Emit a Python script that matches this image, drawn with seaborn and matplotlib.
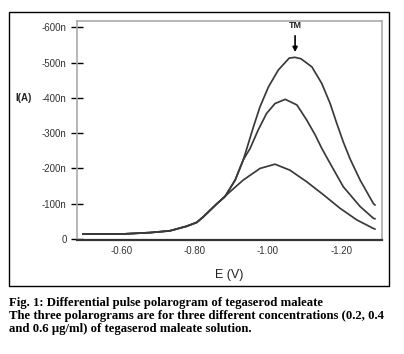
import matplotlib
matplotlib.use("Agg")
import matplotlib.pyplot as plt
import seaborn as sns
import pandas as pd
from matplotlib.patches import Rectangle
from matplotlib.ticker import FixedLocator, FixedFormatter

sns.set_theme(style="white")
plt.rcParams['font.family'] = ['Liberation Sans', 'DejaVu Sans']
plt.rcParams['axes.unicode_minus'] = False

# --- data (potential in V, current magnitude in nA) ---
E_low = [-0.493, -0.600, -0.677, -0.731, -0.777, -0.805, -0.823, -0.859,
         -0.896, -0.932, -0.978, -1.019, -1.060, -1.106, -1.152, -1.197,
         -1.243, -1.288, -1.293]
I_low = [14, 14, 18, 23, 36, 47, 63, 99,
         134, 167, 200, 212, 195, 162, 125, 87,
         54, 30, 28]

E_mid = [-0.493, -0.600, -0.677, -0.731, -0.777, -0.805, -0.823, -0.859,
         -0.882, -0.910, -0.932, -0.951, -0.973, -0.996, -1.019, -1.047,
         -1.079, -1.106, -1.129, -1.147, -1.170, -1.206, -1.252, -1.288, -1.293]
I_mid = [14, 14, 18, 23, 36, 47, 63, 99,
         120, 167, 224, 257, 309, 356, 384, 396,
         380, 337, 295, 257, 214, 148, 92, 59, 57]

E_high = [-0.493, -0.600, -0.677, -0.731, -0.777, -0.805, -0.823, -0.859,
          -0.882, -0.910, -0.932, -0.942, -0.960, -0.978, -1.001, -1.028,
          -1.058, -1.074, -1.090, -1.120, -1.147, -1.170, -1.188, -1.206,
          -1.225, -1.252, -1.288, -1.293]
I_high = [14, 14, 18, 23, 36, 47, 63, 99,
          120, 167, 224, 257, 318, 375, 431, 479,
          513, 515, 511, 488, 441, 384, 328, 275,
          226, 167, 101, 96]

conc_labels = ["0.2 µg/ml", "0.4 µg/ml", "0.6 µg/ml"]

y_ticks = [0, 100, 200, 300, 400, 500, 600]
y_ticklabels = ["0", "-100n", "-200n", "-300n", "-400n", "-500n", "-600n"]
x_ticks = [-0.60, -0.80, -1.00, -1.20]
x_ticklabels = ["-0.60", "-0.80", "-1.00", "-1.20"]

caption = ["Fig. 1: Differential pulse polarogram of tegaserod maleate",
           "The three polarograms are for three different concentrations (0.2, 0.4",
           "and 0.6 \u03bcg/ml) of tegaserod maleate solution."]

frames = []
for lab, E, I in zip(conc_labels, [E_low, E_mid, E_high], [I_low, I_mid, I_high]):
    frames.append(pd.DataFrame({"E": E, "I": I, "conc": lab}))
df = pd.concat(frames, ignore_index=True)

fig = plt.figure(figsize=(4.04, 3.54), dpi=100)
ax = fig.add_axes([0.1906, 0.322, 0.755, 0.6186])

sns.lineplot(data=df, x="E", y="I", hue="conc", units="conc", estimator=None,
             palette=["#3a3a3a"] * 3, legend=False, lw=1.25, ax=ax)

ax.set_xlim(-0.477, -1.312)
ax.set_ylim(-3, 618)

ax.yaxis.set_major_locator(FixedLocator(y_ticks))
ax.yaxis.set_major_formatter(FixedFormatter(y_ticklabels))
ax.xaxis.set_major_locator(FixedLocator(x_ticks))
ax.xaxis.set_major_formatter(FixedFormatter(x_ticklabels))
ax.tick_params(axis='y', direction='inout', length=9, width=1.0, color='black',
               labelsize=7, labelcolor='#333333', pad=3, left=True)
ax.tick_params(axis='x', length=0, labelsize=7, labelcolor='#333333', pad=4)

for s in ['top', 'right', 'left']:
    ax.spines[s].set_color('#aaaaaa')
    ax.spines[s].set_linewidth(1.2)
ax.spines['bottom'].set_color('#333333')
ax.spines['bottom'].set_linewidth(1.6)

ax.set_xlabel("E (V)", fontsize=9, color='#222222', labelpad=10)
ax.set_ylabel("")
fig.text(15 / 404, 1 - 98 / 354, "I(A)", fontsize=7, fontweight='bold',
         ha='left', va='center', color='#222222')

# TM arrow
ax.annotate("", xy=(-1.074, 522), xytext=(-1.074, 584),
            arrowprops=dict(arrowstyle='-|>', color='black', lw=1.2, mutation_scale=7))
ax.text(-1.074, 604, "TM", fontsize=6.5, fontweight='bold', ha='center', va='center',
        color='#222222')

# outer frame
fig.patches.append(Rectangle((9 / 404, 68 / 354), 380 / 404, 274 / 354,
                             transform=fig.transFigure, fill=False,
                             edgecolor='black', lw=1.0))

ys = [303, 316, 329]
for t, yy in zip(caption, ys):
    fig.text(9 / 404, 1 - yy / 354, t, fontsize=9.2, fontweight='bold',
             family=['Liberation Serif', 'DejaVu Serif'], ha='left', va='center',
             color='black')

fig.savefig("out.png", dpi=100)
